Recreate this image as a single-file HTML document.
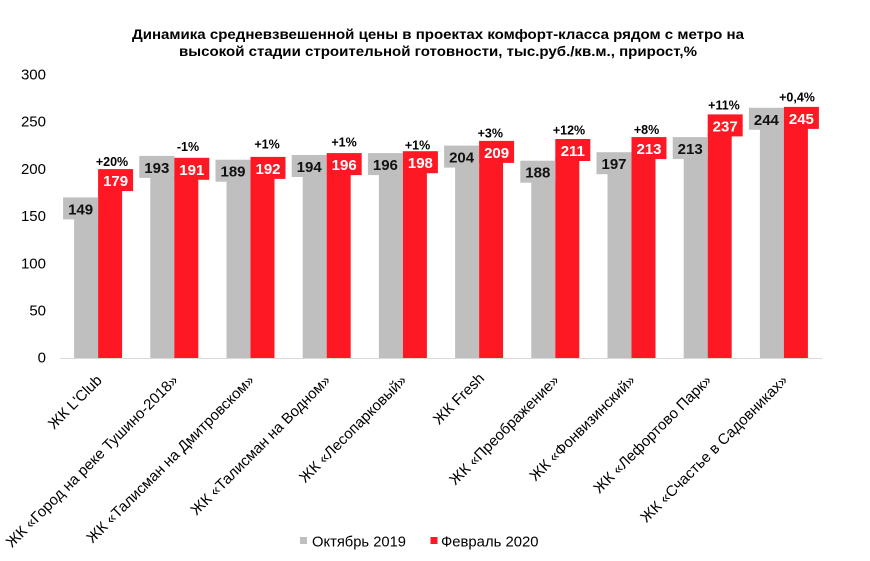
<!DOCTYPE html>
<html>
<head>
<meta charset="utf-8">
<style>
html,body{margin:0;padding:0;background:#fff;}
svg{display:block;}
text{font-family:"Liberation Sans",Arial,sans-serif;}
</style>
</head>
<body>
<svg width="870" height="561" viewBox="0 0 870 561" xmlns="http://www.w3.org/2000/svg">
<rect width="870" height="561" fill="#fff"/>
<!-- Title -->
<text x="438" y="39" font-size="14" font-weight="bold" text-anchor="middle" textLength="612" lengthAdjust="spacingAndGlyphs" fill="#000">Динамика средневзвешенной цены в проектах комфорт-класса рядом с метро на</text>
<text x="438" y="56" font-size="14" font-weight="bold" text-anchor="middle" textLength="518" lengthAdjust="spacingAndGlyphs" fill="#000">высокой стадии строительной готовности, тыс.руб./кв.м., прирост,%</text>

<!-- Y axis labels -->
<g font-size="15" text-anchor="end" fill="#000" dominant-baseline="central">
<text x="46" y="75">300</text>
<text x="46" y="122">250</text>
<text x="46" y="169.5">200</text>
<text x="46" y="216.5">150</text>
<text x="46" y="264">100</text>
<text x="46" y="311">50</text>
<text x="46" y="358">0</text>
</g>

<!-- axis line -->
<line x1="60" y1="358.5" x2="822" y2="358.5" stroke="#d9d9d9" stroke-width="1"/>

<!-- Bars -->
<g fill="#bfbfbf">
<rect x="74.1" y="217.4" width="24" height="140.6"/>
<rect x="150.3" y="175.9" width="24" height="182.1"/>
<rect x="226.5" y="179.7" width="24" height="178.3"/>
<rect x="302.7" y="175.0" width="24" height="183"/>
<rect x="378.9" y="173.1" width="24" height="184.9"/>
<rect x="455.1" y="165.6" width="24" height="192.4"/>
<rect x="531.3" y="180.7" width="24" height="177.3"/>
<rect x="607.5" y="172.2" width="24" height="185.8"/>
<rect x="683.7" y="157.1" width="24" height="200.9"/>
<rect x="759.9" y="127.8" width="24" height="230.2"/>
</g>
<g fill="#fe1823">
<rect x="98.1" y="189.1" width="24" height="168.9"/>
<rect x="174.3" y="177.8" width="24" height="180.2"/>
<rect x="250.5" y="176.9" width="24" height="181.1"/>
<rect x="326.7" y="173.1" width="24" height="184.9"/>
<rect x="402.9" y="171.2" width="24" height="186.8"/>
<rect x="479.1" y="160.9" width="24" height="197.1"/>
<rect x="555.3" y="159.0" width="24" height="199"/>
<rect x="631.5" y="157.1" width="24" height="200.9"/>
<rect x="707.7" y="134.4" width="24" height="223.6"/>
<rect x="783.9" y="126.9" width="24" height="231.1"/>
</g>

<!-- Label boxes gray -->
<g fill="#bfbfbf">
<rect x="63.1" y="197.4" width="35" height="22"/>
<rect x="139.3" y="155.9" width="35" height="22"/>
<rect x="215.5" y="159.7" width="35" height="22"/>
<rect x="291.7" y="155.0" width="35" height="22"/>
<rect x="367.9" y="153.1" width="35" height="22"/>
<rect x="444.1" y="145.6" width="35" height="22"/>
<rect x="520.3" y="160.7" width="35" height="22"/>
<rect x="596.5" y="152.2" width="35" height="22"/>
<rect x="672.7" y="137.1" width="35" height="22"/>
<rect x="748.9" y="107.8" width="35" height="22"/>
</g>
<g fill="#fe1823">
<rect x="98.1" y="169.1" width="35" height="22"/>
<rect x="174.3" y="157.8" width="35" height="22"/>
<rect x="250.5" y="156.9" width="35" height="22"/>
<rect x="326.7" y="153.1" width="35" height="22"/>
<rect x="402.9" y="151.2" width="35" height="22"/>
<rect x="479.1" y="140.9" width="35" height="22"/>
<rect x="555.3" y="139.0" width="35" height="22"/>
<rect x="631.5" y="137.1" width="35" height="22"/>
<rect x="707.7" y="114.4" width="35" height="22"/>
<rect x="783.9" y="106.9" width="35" height="22"/>
</g>

<!-- value labels -->
<g font-size="15" font-weight="bold" text-anchor="middle" fill="#111">
<text x="80.6" y="214.4">149</text>
<text x="156.8" y="172.9">193</text>
<text x="233" y="176.7">189</text>
<text x="309.2" y="172">194</text>
<text x="385.4" y="170.1">196</text>
<text x="461.6" y="162.6">204</text>
<text x="537.8" y="177.7">188</text>
<text x="614" y="169.2">197</text>
<text x="690.2" y="154.1">213</text>
<text x="766.4" y="124.8">244</text>
</g>
<g font-size="15" font-weight="bold" text-anchor="middle" fill="#fff">
<text x="115.6" y="186.1">179</text>
<text x="191.8" y="174.8">191</text>
<text x="268" y="173.9">192</text>
<text x="344.2" y="170.1">196</text>
<text x="420.4" y="168.2">198</text>
<text x="496.6" y="157.9">209</text>
<text x="572.8" y="156">211</text>
<text x="649" y="154.1">213</text>
<text x="725.2" y="131.4">237</text>
<text x="801.4" y="123.9">245</text>
</g>

<!-- pct labels -->
<g font-size="12.5" font-weight="bold" text-anchor="middle" fill="#000">
<text x="112" y="166">+20%</text>
<text x="188" y="151">-1%</text>
<text x="267" y="148.3">+1%</text>
<text x="344" y="146.7">+1%</text>
<text x="417.5" y="149.3">+1%</text>
<text x="490.3" y="137.3">+3%</text>
<text x="569" y="134.3">+12%</text>
<text x="646.5" y="134">+8%</text>
<text x="724" y="109.3">+11%</text>
<text x="797" y="101.7">+0,4%</text>
</g>

<!-- category labels -->
<g font-size="15" text-anchor="end" fill="#000" dominant-baseline="central">
<text transform="translate(99.6,378) rotate(-45)">ЖК L'Club</text>
<text transform="translate(175.8,378) rotate(-45)">ЖК «Город на реке Тушино-2018»</text>
<text transform="translate(252,378) rotate(-45)">ЖК «Талисман на Дмитровском»</text>
<text transform="translate(328.2,378) rotate(-45)">ЖК «Талисман на Водном»</text>
<text transform="translate(404.4,378) rotate(-45)">ЖК «Лесопарковый»</text>
<text transform="translate(482,376) rotate(-45)">ЖК Fresh</text>
<text transform="translate(556.8,378) rotate(-45)">ЖК «Преображение»</text>
<text transform="translate(633,378) rotate(-45)">ЖК «Фонвизинский»</text>
<text transform="translate(709.2,378) rotate(-45)">ЖК «Лефортово Парк»</text>
<text transform="translate(785.4,378) rotate(-45)">ЖК «Счастье в Садовниках»</text>
</g>

<!-- legend -->
<rect x="300" y="537" width="7" height="7" fill="#bfbfbf"/>
<text x="312" y="546.5" font-size="15" fill="#000" textLength="94" lengthAdjust="spacingAndGlyphs">Октябрь 2019</text>
<rect x="430.5" y="537" width="7" height="7" fill="#fe1823"/>
<text x="441" y="546.5" font-size="15" fill="#000" textLength="97.5" lengthAdjust="spacingAndGlyphs">Февраль 2020</text>
</svg>
</body>
</html>
